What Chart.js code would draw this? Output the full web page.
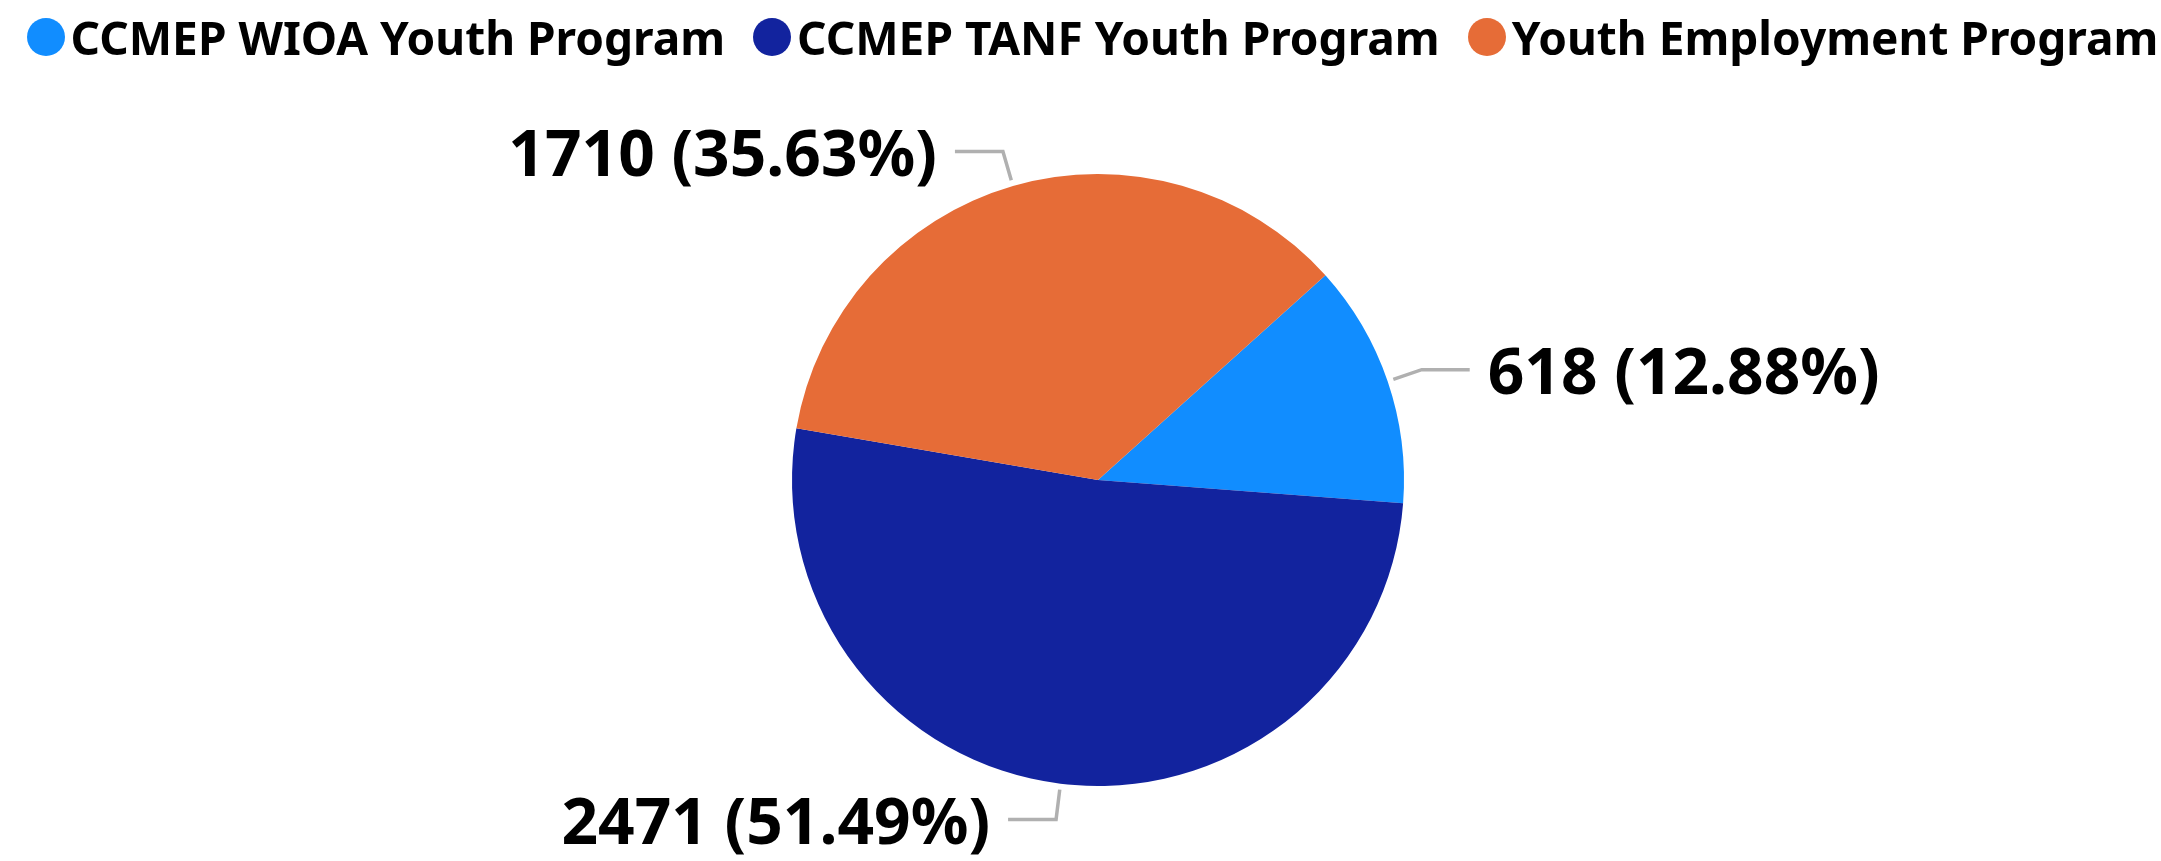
<!DOCTYPE html>
<html>
<head>
<meta charset="utf-8">
<script src="https://cdn.jsdelivr.net/npm/chart.js@4"></script>
<style>
  html, body { margin: 0; padding: 0; background: #fff; }
  #wrap { position: relative; width: 2161px; height: 861px; }
  #legend { position: absolute; left: 12px; top: 0; width: 2161px; height: 74px;
    display: flex; justify-content: center; align-items: center;
    font: bold 46px "Noto Sans", sans-serif; color: #000; white-space: nowrap; }
  .item { display: flex; align-items: center; margin: 0 14px; }
  .dot { width: 38px; height: 38px; border-radius: 50%; margin-right: 6px; }
</style>
</head>
<body>
<div id="wrap">
  <div id="legend"></div>
  <canvas id="myChart"></canvas>
</div>
<script>
const programs = ['CCMEP WIOA Youth Program', 'CCMEP TANF Youth Program', 'Youth Employment Program'];
const counts = [618, 2471, 1710];
const shares = ['12.88%', '51.49%', '35.63%'];
const colors = ['#118DFF', '#12239E', '#E66C37'];

// leader lines + value labels outside the slices
const leaderLabels = {
  id: 'leaderLabels',
  afterDatasetsDraw(chart) {
    const ctx = chart.ctx;
    const meta = chart.getDatasetMeta(0);
    ctx.save();
    meta.data.forEach((arc, i) => {
      const p = arc.getProps(['x', 'y', 'startAngle', 'endAngle', 'outerRadius'], true);
      const mid = (p.startAngle + p.endAngle) / 2;
      const cos = Math.cos(mid), sin = Math.sin(mid);
      const x0 = p.x + cos * (p.outerRadius + 6), y0 = p.y + sin * (p.outerRadius + 6);
      const x1 = p.x + cos * (p.outerRadius + 36), y1 = p.y + sin * (p.outerRadius + 36);
      const dir = cos >= 0 ? 1 : -1;
      const x2 = x1 + dir * 48;
      ctx.strokeStyle = '#b0b0b0';
      ctx.lineWidth = 3.5;
      ctx.beginPath();
      ctx.moveTo(x0, y0);
      ctx.lineTo(x1, y1);
      ctx.lineTo(x2, y1);
      ctx.stroke();
      ctx.fillStyle = '#000';
      ctx.font = 'bold 64px "Noto Sans"';
      ctx.textAlign = dir > 0 ? 'left' : 'right';
      ctx.textBaseline = 'middle';
      ctx.fillText(`${counts[i]} (${shares[i]})`, x2 + dir * 18, y1 + 6);
    });
    ctx.restore();
  }
};

const ctx = document.getElementById('myChart').getContext('2d');
const chart = new Chart(ctx, {
  type: 'pie',
  data: {
    labels: programs,
    datasets: [{ data: counts, backgroundColor: colors, borderWidth: 0 }]
  },
  options: {
    responsive: true,
    maintainAspectRatio: false,
    animation: false,
    rotation: 48,
    layout: { padding: { top: 174, bottom: 75, left: 35, right: 0 } },
    plugins: { legend: { display: false }, tooltip: { enabled: false } }
  },
  plugins: [leaderLabels]
});

const legend = document.getElementById('legend');
chart.data.labels.forEach((name, i) => {
  const item = document.createElement('div');
  item.className = 'item';
  item.innerHTML = `<span class="dot" style="background:${colors[i]}"></span><span>${name}</span>`;
  legend.appendChild(item);
});
</script>
</body>
</html>
